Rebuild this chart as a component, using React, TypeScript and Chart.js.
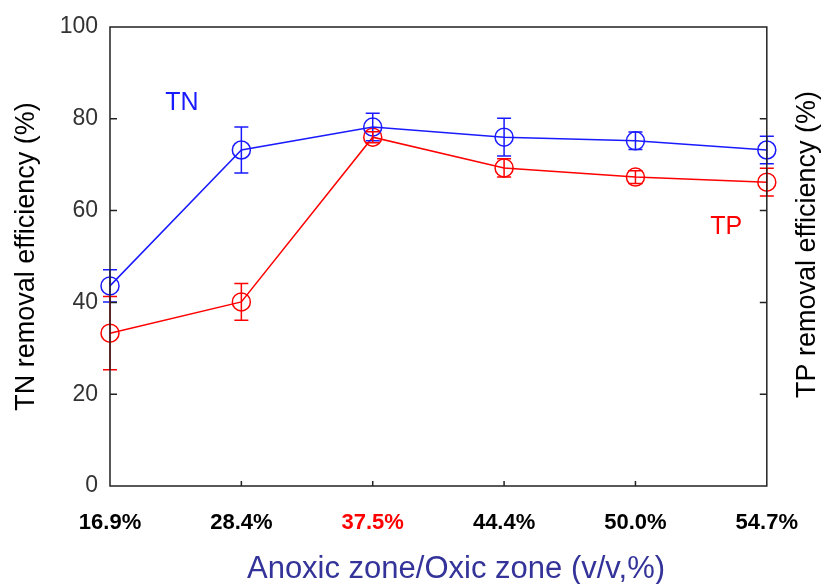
import React, { useEffect, useRef } from 'react';
import { Chart, registerables } from 'chart.js';

Chart.register(...registerables);

const categories = ['16.9%', '28.4%', '37.5%', '44.4%', '50.0%', '54.7%'];
const tnValues = [43.6, 73.2, 78.2, 76.0, 75.2, 73.2];
const tnErrors = [3.5, 5.0, 3.0, 4.1, 1.9, 3.0];
const tpValues = [33.3, 40.1, 76.0, 69.3, 67.3, 66.2];
const tpErrors = [8.0, 4.0, 1.2, 2.0, 1.4, 3.0];
const yMin = 0;
const yMax = 100;
const yStep = 20;
const highlightIndex = 2;

const FONT = '"Liberation Sans", Arial, sans-serif';
const BLUE = '#1a1aff';
const RED = '#ff0000';

const decorPlugin = {
  id: 'decor',
  afterDatasetsDraw(chart: any) {
    const { ctx, chartArea, scales } = chart;
    const xs = scales.x;
    const ys = scales.y;
    ctx.save();
    // error bars
    const sets = [
      { v: tnValues, e: tnErrors, c: BLUE },
      { v: tpValues, e: tpErrors, c: RED },
    ];
    sets.forEach((s) => {
      ctx.strokeStyle = s.c;
      ctx.lineWidth = 1.5;
      s.v.forEach((v, i) => {
        const x = xs.getPixelForValue(i);
        const yt = ys.getPixelForValue(v + s.e[i]);
        const yb = ys.getPixelForValue(v - s.e[i]);
        ctx.beginPath();
        ctx.moveTo(x, yt);
        ctx.lineTo(x, yb);
        ctx.moveTo(x - 7, yt);
        ctx.lineTo(x + 7, yt);
        ctx.moveTo(x - 7, yb);
        ctx.lineTo(x + 7, yb);
        ctx.stroke();
      });
    });
    // frame
    ctx.strokeStyle = '#222';
    ctx.lineWidth = 1.5;
    ctx.strokeRect(chartArea.left, chartArea.top, chartArea.right - chartArea.left, chartArea.bottom - chartArea.top);
    // inward ticks
    ctx.beginPath();
    for (let v = yMin + yStep; v < yMax; v += yStep) {
      const y = ys.getPixelForValue(v);
      ctx.moveTo(chartArea.left, y);
      ctx.lineTo(chartArea.left + 7, y);
      ctx.moveTo(chartArea.right, y);
      ctx.lineTo(chartArea.right - 7, y);
    }
    for (let i = 1; i < categories.length - 1; i++) {
      const x = xs.getPixelForValue(i);
      ctx.moveTo(x, chartArea.bottom);
      ctx.lineTo(x, chartArea.bottom - 5);
    }
    ctx.stroke();
    // series labels
    ctx.font = '25px ' + FONT;
    ctx.textAlign = 'left';
    ctx.textBaseline = 'alphabetic';
    ctx.fillStyle = BLUE;
    ctx.fillText('TN', xs.getPixelForValue(0.42), ys.getPixelForValue(82));
    ctx.fillStyle = RED;
    ctx.fillText('TP', xs.getPixelForValue(4.57), ys.getPixelForValue(55));
    // right axis title
    ctx.save();
    ctx.translate(808, (chartArea.top + chartArea.bottom) / 2 - 12);
    ctx.rotate(-Math.PI / 2);
    ctx.font = '27px ' + FONT;
    ctx.fillStyle = '#000';
    ctx.textAlign = 'center';
    ctx.textBaseline = 'middle';
    ctx.fillText('TP removal efficiency (%)', 0, 0);
    ctx.restore();
    // x axis title
    ctx.font = '31px ' + FONT;
    ctx.fillStyle = '#333399';
    ctx.textAlign = 'center';
    ctx.textBaseline = 'alphabetic';
    ctx.fillText('Anoxic zone/Oxic zone (v/v,%)', 456, 578);
    ctx.restore();
  },
};

export default function App() {
  const ref = useRef<HTMLCanvasElement | null>(null);
  useEffect(() => {
    document.body.style.margin = '0';
    const canvas = ref.current;
    if (!canvas) return;
    const chart = new Chart(canvas, {
      type: 'line',
      data: {
        labels: categories,
        datasets: [
          {
            label: 'TN',
            data: tnValues,
            borderColor: BLUE,
            borderWidth: 1.5,
            pointRadius: 9,
            pointBorderWidth: 1.5,
            pointBorderColor: BLUE,
            pointBackgroundColor: 'rgba(0,0,0,0)',
            tension: 0,
            clip: false as any,
          },
          {
            label: 'TP',
            data: tpValues,
            borderColor: RED,
            borderWidth: 1.5,
            pointRadius: 9,
            pointBorderWidth: 1.5,
            pointBorderColor: RED,
            pointBackgroundColor: 'rgba(0,0,0,0)',
            tension: 0,
            clip: false as any,
          },
        ],
      },
      options: {
        responsive: false,
        animation: false,
        layout: { padding: { top: 27, right: 53, left: 0, bottom: 0 } },
        plugins: { legend: { display: false }, tooltip: { enabled: false } },
        scales: {
          x: {
            type: 'category',
            offset: false,
            grid: { display: false, drawTicks: false },
            border: { display: false },
            ticks: {
              padding: 24,
              maxRotation: 0,
              autoSkip: false,
              font: { family: FONT, size: 22, weight: 'bold' },
              color: (c: any) => (c.index === highlightIndex ? RED : '#000'),
            },
            afterFit: (s: any) => {
              s.height = 98;
            },
          },
          y: {
            type: 'linear',
            min: yMin,
            max: yMax,
            grid: { display: false, drawTicks: false },
            border: { display: false },
            ticks: {
              stepSize: yStep,
              padding: 12,
              font: { family: FONT, size: 23 },
              color: '#333',
            },
            title: {
              display: true,
              text: 'TN removal efficiency (%)',
              color: '#000',
              font: { family: FONT, size: 27 },
              padding: { top: 10, bottom: 0 },
            },
            afterFit: (s: any) => {
              s.width = 110;
            },
          },
        },
      },
      plugins: [decorPlugin],
    });
    return () => chart.destroy();
  }, []);
  return (
    <div style={{ width: 822, height: 584, background: '#fff' }}>
      <canvas ref={ref} width={822} height={584} style={{ width: 822, height: 584, display: 'block' }} />
    </div>
  );
}
